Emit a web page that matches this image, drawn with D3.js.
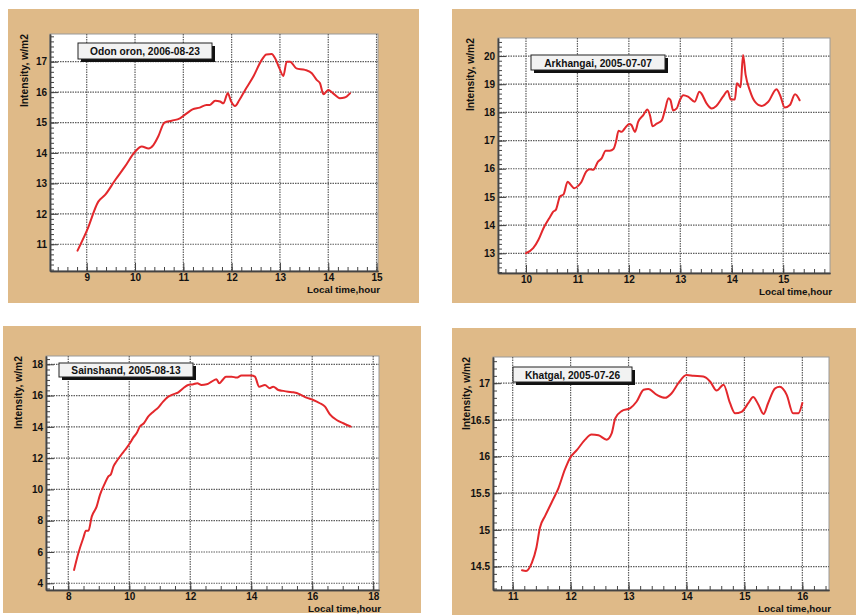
<!DOCTYPE html>
<html>
<head>
<meta charset="utf-8">
<script src="https://cdn.jsdelivr.net/npm/d3@7"></script>
<style>
  html, body { margin: 0; padding: 0; background: #ffffff; }
  svg { display: block; font-family: "Liberation Sans", Arial, sans-serif; }
</style>
</head>
<body>
<svg id="chart" width="856" height="615"></svg>
<script>
// ---- Station titles ----
const titles = ["Odon oron, 2006-08-23", "Arkhangai, 2005-07-07", "Sainshand, 2005-08-13", "Khatgal, 2005-07-26"];

// ---- Measurements: local time (hour) and intensity (w/m2) ----
const odonTime = [8.81, 9.01, 9.24, 9.38, 9.59, 9.79, 10.0, 10.14, 10.28, 10.38, 10.48, 10.61, 10.76, 10.93, 11.07, 11.19, 11.34, 11.48, 11.55, 11.66, 11.76, 11.83, 11.92, 11.99, 12.07, 12.16, 12.28, 12.45, 12.62, 12.72, 12.83, 12.90, 12.99, 13.07, 13.14, 13.21, 13.34, 13.52, 13.66, 13.76, 13.83, 13.90, 14.0, 14.10, 14.24, 14.34, 14.45];
const odonValue = [10.79, 11.47, 12.40, 12.62, 13.11, 13.55, 14.04, 14.21, 14.15, 14.26, 14.54, 15.0, 15.06, 15.14, 15.30, 15.43, 15.49, 15.58, 15.58, 15.72, 15.69, 15.63, 15.96, 15.69, 15.54, 15.74, 16.07, 16.51, 17.05, 17.24, 17.25, 17.11, 16.78, 16.53, 17.0, 17.0, 16.78, 16.73, 16.62, 16.40, 16.29, 15.93, 16.07, 15.96, 15.80, 15.82, 15.96];

const arkhTime = [10.0, 10.14, 10.24, 10.34, 10.47, 10.53, 10.58, 10.66, 10.73, 10.81, 10.86, 10.94, 11.02, 11.08, 11.17, 11.24, 11.31, 11.40, 11.47, 11.55, 11.63, 11.70, 11.75, 11.80, 11.86, 11.92, 12.01, 12.05, 12.12, 12.18, 12.28, 12.36, 12.41, 12.46, 12.54, 12.64, 12.70, 12.77, 12.81, 12.86, 12.93, 12.99, 13.06, 13.15, 13.28, 13.37, 13.41, 13.51, 13.61, 13.70, 13.83, 13.92, 13.98, 14.06, 14.10, 14.17, 14.22, 14.27, 14.35, 14.45, 14.58, 14.71, 14.87, 14.94, 15.03, 15.13, 15.23, 15.32];
const arkhValue = [13.0, 13.18, 13.47, 13.89, 14.30, 14.48, 14.54, 15.01, 15.09, 15.54, 15.45, 15.31, 15.40, 15.54, 15.90, 15.98, 15.96, 16.25, 16.37, 16.64, 16.64, 16.70, 16.96, 17.35, 17.31, 17.43, 17.59, 17.55, 17.31, 17.66, 17.90, 18.10, 17.90, 17.51, 17.60, 17.72, 18.07, 18.50, 18.43, 18.07, 18.14, 18.43, 18.61, 18.56, 18.38, 18.73, 18.67, 18.32, 18.14, 18.23, 18.56, 18.76, 18.46, 18.46, 19.03, 18.89, 20.04, 19.33, 18.79, 18.38, 18.23, 18.38, 18.82, 18.61, 18.17, 18.26, 18.64, 18.43];

const sainTime = [8.19, 8.33, 8.49, 8.58, 8.66, 8.77, 8.93, 9.04, 9.20, 9.31, 9.40, 9.48, 9.58, 9.75, 9.86, 10.02, 10.13, 10.24, 10.35, 10.48, 10.62, 10.79, 10.95, 11.11, 11.28, 11.44, 11.61, 11.77, 11.93, 12.10, 12.23, 12.37, 12.54, 12.70, 12.86, 12.95, 13.06, 13.17, 13.36, 13.52, 13.68, 13.85, 14.01, 14.12, 14.26, 14.45, 14.61, 14.72, 14.89, 15.05, 15.21, 15.38, 15.60, 15.81, 16.03, 16.25, 16.42, 16.58, 16.80, 17.02, 17.26];
const sainValue = [4.85, 5.92, 6.88, 7.35, 7.35, 8.26, 8.90, 9.65, 10.39, 10.82, 10.97, 11.46, 11.78, 12.25, 12.52, 12.95, 13.31, 13.59, 14.02, 14.23, 14.65, 14.97, 15.23, 15.61, 15.93, 16.08, 16.21, 16.47, 16.68, 16.72, 16.79, 16.68, 16.72, 16.89, 17.04, 16.79, 17.0, 17.21, 17.21, 17.15, 17.28, 17.28, 17.28, 17.21, 16.57, 16.68, 16.47, 16.57, 16.36, 16.30, 16.25, 16.21, 16.08, 15.87, 15.72, 15.51, 15.29, 14.80, 14.44, 14.23, 14.02];

const khatTime = [11.16, 11.23, 11.33, 11.41, 11.47, 11.56, 11.67, 11.79, 11.90, 11.99, 12.11, 12.25, 12.36, 12.48, 12.62, 12.71, 12.77, 12.88, 13.03, 13.14, 13.26, 13.34, 13.49, 13.63, 13.74, 13.86, 14.00, 14.12, 14.29, 14.41, 14.52, 14.64, 14.75, 14.84, 14.95, 15.07, 15.15, 15.24, 15.33, 15.41, 15.53, 15.61, 15.73, 15.84, 15.93, 16.0];
const khatValue = [14.45, 14.44, 14.55, 14.76, 15.03, 15.19, 15.37, 15.57, 15.82, 15.98, 16.09, 16.23, 16.30, 16.29, 16.23, 16.32, 16.52, 16.62, 16.66, 16.75, 16.91, 16.92, 16.84, 16.80, 16.86, 17.0, 17.11, 17.10, 17.09, 17.02, 16.90, 16.98, 16.73, 16.59, 16.61, 16.73, 16.81, 16.71, 16.58, 16.73, 16.93, 16.95, 16.84, 16.59, 16.59, 16.73];

// ---- Axis ticks ----
const odonXTicks = [9, 10, 11, 12, 13, 14, 15];
const odonYTicks = [11, 12, 13, 14, 15, 16, 17];
const arkhXTicks = [10, 11, 12, 13, 14, 15];
const arkhYTicks = [13, 14, 15, 16, 17, 18, 19, 20];
const sainXTicks = [8, 10, 12, 14, 16, 18];
const sainYTicks = [4, 6, 8, 10, 12, 14, 16, 18];
const khatXTicks = [11, 12, 13, 14, 15, 16];
const khatYTicks = [14.5, 15, 15.5, 16, 16.5, 17];

const xTitle = "Local time,hour";
const yTitle = "Intensity, w/m2";

// ---- Panel layout ----
const panels = [
  { title: titles[0], t: odonTime, v: odonValue, xt: odonXTicks, yt: odonYTicks,
    bg: [8, 9, 411, 294], frame: [50, 34, 328, 237],
    xd: [8.24, 15.03], yd: [10.12, 17.91], xMinor: 5, yMinor: 6,
    legend: [78, 43, 134, 16], yTitleX: 24, xTitleY: 289 },
  { title: titles[1], t: arkhTime, v: arkhValue, xt: arkhXTicks, yt: arkhYTicks,
    bg: [452, 9, 404, 294], frame: [498, 38, 332, 235],
    xd: [9.456, 15.91], yd: [12.3, 20.64], xMinor: 5, yMinor: 6,
    legend: [531, 55, 134, 15], yTitleX: 470, xTitleY: 291 },
  { title: titles[2], t: sainTime, v: sainValue, xt: sainXTicks, yt: sainYTicks,
    bg: [3, 326, 418, 287], frame: [46, 356, 333, 234],
    xd: [7.27, 18.19], yd: [3.57, 18.53], xMinor: 4, yMinor: 6,
    legend: [59, 363, 134, 14], yTitleX: 18, xTitleY: 608 },
  { title: titles[3], t: khatTime, v: khatValue, xt: khatXTicks, yt: khatYTicks,
    bg: [452, 328, 404, 287], frame: [493, 357, 336, 233],
    xd: [10.66, 16.46], yd: [14.18, 17.357], xMinor: 5, yMinor: 5,
    legend: [513, 367, 119, 15], yTitleX: 466, xTitleY: 608 }
];

const svg = d3.select("#chart");
const TAN = "#dfba88";
const RED = "#e3282c";

panels.forEach(p => {
  const g = svg.append("g");
  const [fx, fy, fw, fh] = p.frame;

  // canvas background
  g.append("rect").attr("x", p.bg[0]).attr("y", p.bg[1])
    .attr("width", p.bg[2]).attr("height", p.bg[3]).attr("fill", TAN);

  // plot area
  g.append("rect").attr("x", fx).attr("y", fy).attr("width", fw).attr("height", fh)
    .attr("fill", "#ffffff").attr("stroke", "#9a9a9a").attr("stroke-width", 1);

  const x = d3.scaleLinear().domain(p.xd).range([fx, fx + fw]);
  const y = d3.scaleLinear().domain(p.yd).range([fy + fh, fy]);

  // dotted grid at major ticks
  const grid = g.append("g").attr("stroke", "#5e5e5e").attr("stroke-width", 1.2)
    .attr("stroke-dasharray", "1.5,1");
  grid.selectAll("line.gx").data(p.xt.filter(d => x(d) < fx + fw - 1)).join("line")
    .attr("x1", d => x(d)).attr("x2", d => x(d)).attr("y1", fy).attr("y2", fy + fh);
  grid.selectAll("line.gy").data(p.yt).join("line")
    .attr("x1", fx).attr("x2", fx + fw).attr("y1", d => y(d)).attr("y2", d => y(d));

  // minor tick positions
  const xStep = (p.xt[1] - p.xt[0]) / p.xMinor;
  const yStep = (p.yt[1] - p.yt[0]) / p.yMinor;
  const xMinorTicks = d3.range(Math.ceil(p.xd[0] / xStep - 1e-6), Math.floor(p.xd[1] / xStep + 1e-6) + 1)
    .map(k => k * xStep);
  const yMinorTicks = d3.range(Math.ceil(p.yd[0] / yStep - 1e-6), Math.floor(p.yd[1] / yStep + 1e-6) + 1)
    .map(k => k * yStep);

  // x axis
  const xAxisMinor = d3.axisBottom(x).tickValues(xMinorTicks).tickSizeInner(-4).tickSizeOuter(0).tickFormat("");
  const xAxisMajor = d3.axisBottom(x).tickValues(p.xt).tickSizeInner(-8).tickSizeOuter(0)
    .tickPadding(3).tickFormat(d3.format("~g"));
  [xAxisMinor, xAxisMajor].forEach(ax => {
    const a = g.append("g").attr("transform", `translate(0,${fy + fh})`).call(ax);
    a.select(".domain").attr("stroke", "#444").attr("stroke-width", 1.5);
    a.selectAll(".tick line").attr("stroke", "#444").attr("stroke-width", 1);
    a.selectAll(".tick text").attr("fill", "#111").attr("font-size", 10).attr("font-weight", "bold");
  });

  // y axis
  const yAxisMinor = d3.axisLeft(y).tickValues(yMinorTicks).tickSizeInner(-4).tickSizeOuter(0).tickFormat("");
  const yAxisMajor = d3.axisLeft(y).tickValues(p.yt).tickSizeInner(-8).tickSizeOuter(0)
    .tickPadding(3).tickFormat(d3.format("~g"));
  [yAxisMinor, yAxisMajor].forEach(ax => {
    const a = g.append("g").attr("transform", `translate(${fx},0)`).call(ax);
    a.select(".domain").attr("stroke", "#444").attr("stroke-width", 1.5);
    a.selectAll(".tick line").attr("stroke", "#444").attr("stroke-width", 1);
    a.selectAll(".tick text").attr("fill", "#111").attr("font-size", 10).attr("font-weight", "bold");
  });

  // axis titles
  g.append("text").attr("x", fx + fw + 2).attr("y", p.xTitleY)
    .attr("text-anchor", "end").attr("dominant-baseline", "central")
    .attr("font-size", 9.8).attr("font-weight", "bold").attr("fill", "#111").text(xTitle);
  g.append("text")
    .attr("transform", `translate(${p.yTitleX},${fy}) rotate(-90)`)
    .attr("text-anchor", "end").attr("dominant-baseline", "central")
    .attr("font-size", 10.3).attr("font-weight", "bold").attr("fill", "#111").text(yTitle);

  // measurement curve
  const pts = p.t.map((t, i) => [t, p.v[i]]);
  const line = d3.line().x(d => x(d[0])).y(d => y(d[1])).curve(d3.curveMonotoneX);
  g.append("path").datum(pts).attr("d", line)
    .attr("fill", "none").attr("stroke", RED).attr("stroke-width", 2)
    .attr("stroke-linejoin", "round").attr("stroke-linecap", "round");

  // station label box with shadow
  const [lx, ly, lw, lh] = p.legend;
  g.append("rect").attr("x", lx + 3).attr("y", ly + 3).attr("width", lw).attr("height", lh)
    .attr("fill", "#111");
  g.append("rect").attr("x", lx).attr("y", ly).attr("width", lw).attr("height", lh)
    .attr("fill", "#f2f2f2").attr("stroke", "#222").attr("stroke-width", 1);
  g.append("text").attr("x", lx + lw / 2).attr("y", ly + lh / 2 + 0.5)
    .attr("text-anchor", "middle").attr("dominant-baseline", "central")
    .attr("font-size", 10.2).attr("font-weight", "bold").attr("fill", "#111").text(p.title);
});
</script>
</body>
</html>
